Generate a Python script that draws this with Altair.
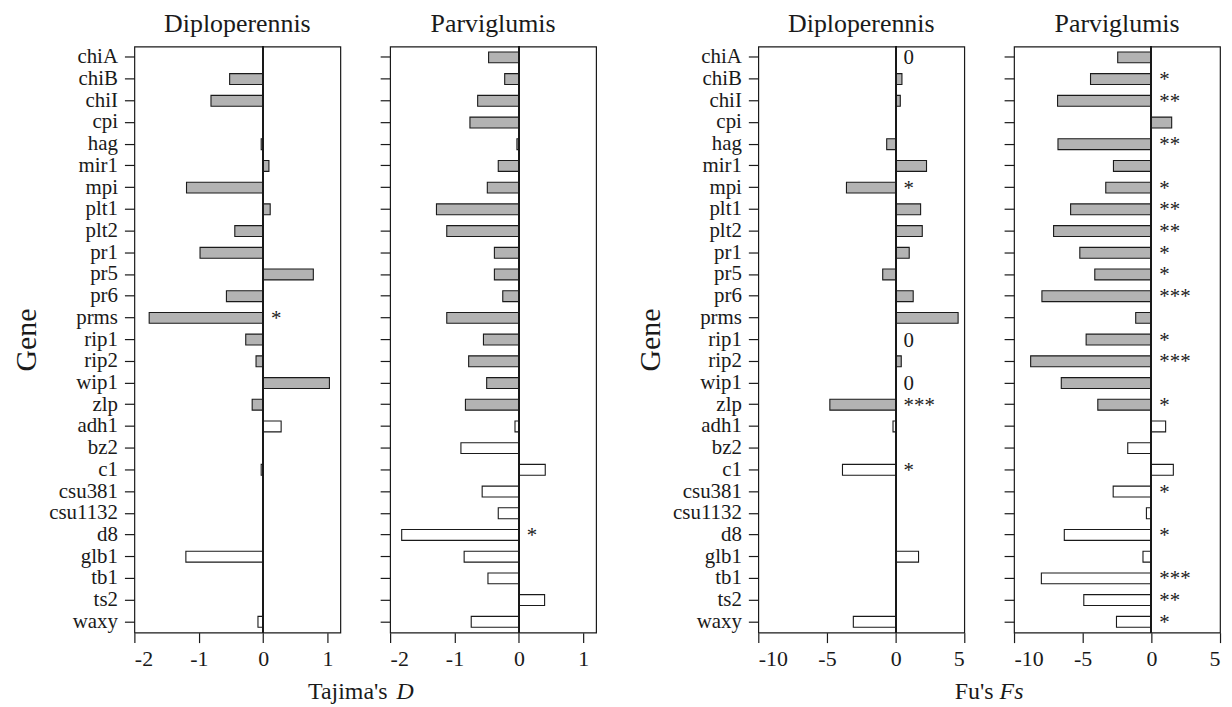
import altair as alt
import pandas as pd

FONT = "Liberation Serif"
INK = "#1a1a1a"

genes = ["chiA", "chiB", "chiI", "cpi", "hag", "mir1", "mpi", "plt1", "plt2",
         "pr1", "pr5", "pr6", "prms", "rip1", "rip2", "wip1", "zlp",
         "adh1", "bz2", "c1", "csu381", "csu1132", "d8", "glb1", "tb1", "ts2", "waxy"]
kinds = ["defense"] * 17 + ["reference"] * 10

tajima_diplo = [None, -0.52, -0.81, None, -0.03, 0.09, -1.19, 0.11, -0.44,
                -0.98, 0.78, -0.57, -1.77, -0.27, -0.11, 1.03, -0.17,
                0.28, None, -0.03, None, None, None, -1.20, None, None, -0.08]
tajima_diplo_sig = ["", "", "", "", "", "", "", "", "",
                    "", "", "", "*", "", "", "", "",
                    "", "", "", "", "", "", "", "", "", ""]

tajima_parvi = [-0.47, -0.22, -0.64, -0.76, -0.03, -0.32, -0.49, -1.28, -1.12,
                -0.38, -0.38, -0.25, -1.12, -0.55, -0.78, -0.50, -0.83,
                -0.06, -0.90, 0.41, -0.57, -0.32, -1.82, -0.85, -0.48, 0.40, -0.74]
tajima_parvi_sig = ["", "", "", "", "", "", "", "", "",
                    "", "", "", "", "", "", "", "",
                    "", "", "", "", "", "*", "", "", "", ""]

fu_diplo = [None, 0.46, 0.34, None, -0.65, 2.25, -3.58, 1.82, 1.94,
            0.99, -0.94, 1.28, 4.55, None, 0.41, None, -4.79,
            -0.19, None, -3.87, None, None, None, 1.67, None, None, -3.08]
fu_diplo_sig = ["0", "", "", "", "", "", "*", "", "",
                "", "", "", "", "0", "", "0", "***",
                "", "", "*", "", "", "", "", "", "", ""]

fu_parvi = [-2.45, -4.43, -6.83, 1.48, -6.80, -2.76, -3.32, -5.88, -7.12,
            -5.21, -4.12, -7.97, -1.14, -4.75, -8.79, -6.56, -3.90,
            1.04, -1.72, 1.60, -2.78, -0.36, -6.34, -0.61, -8.01, -4.92, -2.54]
fu_parvi_sig = ["", "*", "**", "", "**", "", "*", "**", "**",
                "*", "*", "***", "", "*", "***", "", "*",
                "", "", "", "*", "", "*", "", "***", "**", "*"]

tajima_domain = [-2, 1.2]
tajima_ticks = [-2, -1, 0, 1]
fu_domain = [-10, 5]
fu_ticks = [-10, -5, 0, 5]

PW = 207
PH = 589


def panel(values, notes, domain, ticks, title, show_labels, xtitle, xtitle_x, xtitle_align, xtitle_style):
    df = pd.DataFrame({"gene": genes, "value": values, "kind": kinds, "note": notes})
    df["zero"] = 0.0

    if show_labels:
        yaxis = alt.Axis(title="Gene", titleFont=FONT, titleFontSize=30, titleFontWeight="normal",
                         titleColor=INK, titlePadding=7, labelFont=FONT, labelFontSize=21,
                         labelColor=INK, labelPadding=7, tickSize=10, tickColor=INK,
                         tickWidth=1.2, domain=False, grid=False)
    else:
        yaxis = alt.Axis(title="", labels=False, tickSize=10, tickColor=INK, tickWidth=1.2,
                         domain=False, grid=False)
    xaxis = alt.Axis(values=ticks, labelExpr="toString(datum.value)", title=xtitle,
                     titleFont=FONT, titleFontSize=24, titleFontWeight="normal",
                     titleFontStyle=xtitle_style, titleColor=INK, titleX=xtitle_x,
                     titleY=66, titleAlign=xtitle_align, titleBaseline="alphabetic",
                     labelFont=FONT, labelFontSize=22, labelColor=INK, labelPadding=6,
                     tickSize=10, tickColor=INK, tickWidth=1.2, domain=False, grid=False)
    yscale = alt.Scale(domain=genes, paddingInner=0.5, paddingOuter=0.25)
    xscale = alt.Scale(domain=domain, nice=False, zero=False)

    def ycol():
        return alt.Y("gene:N", sort=genes, scale=yscale, axis=yaxis)

    def xcol(field):
        return alt.X(field, type="quantitative", scale=xscale, axis=xaxis)

    base = alt.Chart(df)
    bars = base.transform_filter("isValid(datum.value)").mark_bar(
        stroke=INK, strokeWidth=1.1
    ).encode(
        y=ycol(),
        x=xcol("value"),
        x2=alt.X2("zero"),
        fill=alt.Fill("kind:N", scale=alt.Scale(domain=["defense", "reference"],
                                                range=["#b3b3b3", "#ffffff"]), legend=None),
    )
    zero = base.mark_rule(color=INK, strokeWidth=1.2).encode(x=xcol("zero"))
    notes_layer = base.transform_filter("datum.note != ''").mark_text(
        align="left", baseline="middle", dx=8, dy=1, font=FONT, fontSize=21, color=INK
    ).encode(y=ycol(), x=xcol("zero"), text="note:N")

    return alt.layer(bars, zero, notes_layer).properties(
        width=PW, height=PH,
        title=alt.TitleParams(text=title, font=FONT, fontSize=26, fontWeight="normal",
                              color=INK, offset=9, anchor="middle"),
    )


p1 = panel(tajima_diplo, tajima_diplo_sig, tajima_domain, tajima_ticks, "Diploperennis", True,
           "Tajima's", 254, "right", "normal")
p2 = panel(tajima_parvi, tajima_parvi_sig, tajima_domain, tajima_ticks, "Parviglumis", False,
           "D", 6, "left", "italic")
p3 = panel(fu_diplo, fu_diplo_sig, fu_domain, fu_ticks, "Diploperennis", True,
           "Fu's", 236, "right", "normal")
p4 = panel(fu_parvi, fu_parvi_sig, fu_domain, fu_ticks, "Parviglumis", False,
           "Fs", -15, "left", "italic")

spacer = alt.Chart(pd.DataFrame({"blank": [""]})).mark_text().encode(
    text="blank:N"
).properties(width=63, height=PH, view=alt.ViewBackground(strokeOpacity=0))

chart = alt.hconcat(p1, p2, spacer, p3, p4, spacing=50, bounds="flush").properties(
    padding={"left": 3, "top": 0, "right": 2, "bottom": 2},
    background="white",
).configure_view(
    stroke=INK, strokeWidth=1.2
).configure_axis(
    labelFont=FONT, titleFont=FONT
).configure_title(font=FONT)

chart.save("out.html", embed_options={"renderer": "svg", "actions": False})
